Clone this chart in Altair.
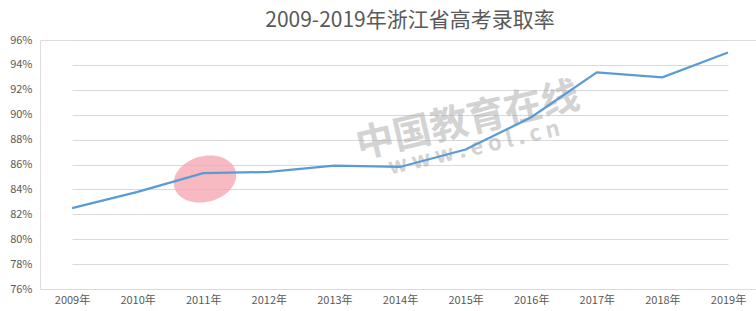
import altair as alt
import pandas as pd

years = ["2009年", "2010年", "2011年", "2012年", "2013年", "2014年",
         "2015年", "2016年", "2017年", "2018年", "2019年"]
rates = [82.5, 83.8, 85.3, 85.4, 85.9, 85.8, 87.2, 89.8, 93.4, 93.0, 95.0]
y_ticks = [76, 78, 80, 82, 84, 86, 88, 90, 92, 94, 96]

df = pd.DataFrame({"year": years, "rate": rates})

FONT = "Noto Sans CJK SC"
TEXT = "#595959"

base = alt.Chart(df)

line = base.mark_line(color="#5b9bd5", strokeWidth=2.25).encode(
    x=alt.X("year:N", sort=years,
            scale=alt.Scale(type="point", range=[32, 688], padding=0),
            axis=alt.Axis(title=None, labelAngle=0, ticks=False, domain=False,
                          labelPadding=5, labelFontSize=11, labelColor=TEXT,
                          labelFont=FONT, grid=False)),
    y=alt.Y("rate:Q",
            scale=alt.Scale(domain=[76, 96], nice=False, zero=False),
            axis=alt.Axis(title=None, values=y_ticks, ticks=False, domain=False,
                          labelExpr="datum.value + '%'", labelPadding=8,
                          labelFontSize=11, labelColor=TEXT, labelFont=FONT,
                          gridColor="#d9d9d9", gridWidth=1)),
)

# faint watermark (decoration)
wm = pd.DataFrame({"t": ["中国教育在线", "w w w . e o l . c n"],
                   "px": [428, 434], "py": [82, 108], "fs": [38, 22]})
watermark = alt.Chart(wm).mark_text(
    angle=347, font=FONT, fontWeight="bold", color="#a8a8a8", opacity=0.5
).encode(
    x=alt.X("px:Q", scale=None),
    y=alt.Y("py:Q", scale=None),
    text="t:N",
    size=alt.Size("fs:Q", scale=None, legend=None),
)

logo = pd.DataFrame({"px": [165], "py": [139]})
ellipse = alt.Chart(logo).mark_point(
    shape="M -1 0 A 1 0.72 -15 1 1 1 0 A 1 0.72 -15 1 1 -1 0 Z",
    filled=True, color="#f4a3ae", opacity=0.75, size=3800, strokeWidth=0
).encode(
    x=alt.X("px:Q", scale=None),
    y=alt.Y("py:Q", scale=None),
)

chart = alt.layer(ellipse, watermark, line).properties(
    width=716,
    height=249,
    autosize=alt.AutoSizeParams(type="none"),
    padding={"left": 40, "top": 40, "right": 0, "bottom": 22},
    title=alt.Title("2009-2019年浙江省高考录取率", fontSize=21, font=FONT,
                    fontWeight="normal", color=TEXT, anchor="middle",
                    offset=3, dx=12),
).configure_view(stroke=None).configure(background="white")

chart.save("out.html", embed_options={"renderer": "svg", "actions": False})
